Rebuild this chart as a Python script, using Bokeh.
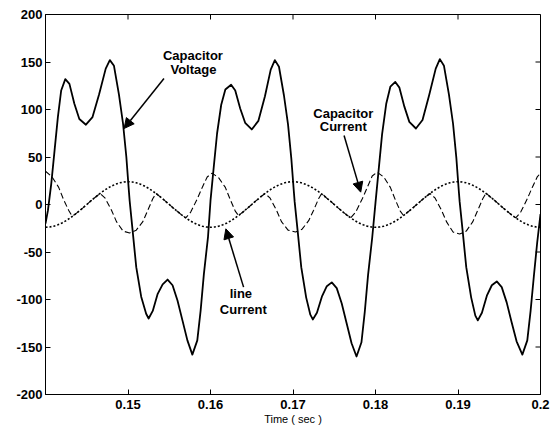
from bokeh.plotting import figure
from bokeh.models import Range1d, FixedTicker, Label, Arrow, NormalHead
from bokeh.embed import file_html
from bokeh.resources import INLINE

# ---------------- data ----------------
x_ticks = [0.15, 0.16, 0.17, 0.18, 0.19, 0.2]
x_tick_labels = ["0.15", "0.16", "0.17", "0.18", "0.19", "0.2"]
y_ticks = [-200, -150, -100, -50, 0, 50, 100, 150, 200]
y_tick_labels = ["-200", "-150", "-100", "-50", "0", "50", "100", "150", "200"]

# Capacitor voltage (solid)
volt_t = [0.1400, 0.1403, 0.1407, 0.1411, 0.1415, 0.1419, 0.1424, 0.1429, 0.1435, 0.1441,
          0.1449, 0.1457, 0.1465, 0.1473, 0.1478, 0.1483, 0.1489, 0.1494, 0.1498, 0.1501,
          0.1502, 0.1506, 0.1510, 0.1516, 0.1522, 0.1525, 0.1530, 0.1536, 0.1542, 0.1548,
          0.1554, 0.1560, 0.1566, 0.1572, 0.1578, 0.1584, 0.1588, 0.1592, 0.1597, 0.1600,
          0.1604, 0.1608, 0.1613, 0.1618, 0.1625, 0.1630, 0.1636, 0.1642, 0.1650, 0.1658,
          0.1666, 0.1673, 0.1678, 0.1683, 0.1689, 0.1694, 0.1698, 0.1701, 0.1702, 0.1706,
          0.1710, 0.1716, 0.1721, 0.1724, 0.1729, 0.1735, 0.1741, 0.1747, 0.1753, 0.1759,
          0.1765, 0.1771, 0.1777, 0.1783, 0.1787, 0.1791, 0.1796, 0.1800,
          0.1804, 0.1808, 0.1813, 0.1818, 0.1824, 0.1829, 0.1835, 0.1841, 0.1849, 0.1857,
          0.1865, 0.1873, 0.1878, 0.1883, 0.1889, 0.1894, 0.1898, 0.1901, 0.1902, 0.1906,
          0.1910, 0.1916, 0.1921, 0.1924, 0.1929, 0.1935, 0.1941, 0.1947, 0.1953, 0.1959,
          0.1965, 0.1971, 0.1978, 0.1984, 0.1988, 0.1992, 0.1996, 0.2000]
volt_v = [-20, -6, 22, 57, 92, 120, 132, 127, 106, 90,
          84, 92, 116, 143, 152, 146, 116, 85, 50, 15,
          4, -31, -66, -97, -115, -120, -112, -94, -84, -79,
          -85, -101, -122, -143, -158, -143, -112, -73, -34, 4,
          40, 75, 105, 121, 126, 120, 101, 86, 79, 88,
          114, 142, 152, 145, 115, 84, 48, 14, 3, -31,
          -66, -98, -116, -121, -114, -97, -86, -82, -88, -104,
          -125, -146, -160, -145, -113, -74, -35, 2,
          38, 74, 106, 124, 129, 123, 103, 87, 80, 89,
          115, 143, 153, 146, 116, 85, 49, 14, 3, -31,
          -66, -98, -117, -122, -114, -96, -85, -81, -87, -103,
          -124, -144, -158, -143, -112, -75, -40, -10]

# Capacitor current (dashed)
cap_t = [0.1400, 0.1408, 0.1416, 0.1422, 0.1428, 0.1432, 0.1435, 0.1440, 0.1445, 0.1450,
         0.1455, 0.1460, 0.1466, 0.1472, 0.1480, 0.1486, 0.1494, 0.1502, 0.1510, 0.1518,
         0.1524, 0.1530, 0.1534, 0.1540, 0.1545, 0.1550, 0.1555, 0.1560, 0.1565, 0.1570,
         0.1576, 0.1584, 0.1590, 0.1596, 0.1602, 0.1610, 0.1618, 0.1624, 0.1630, 0.1634,
         0.1640, 0.1645, 0.1650, 0.1655, 0.1660, 0.1666, 0.1672, 0.1680, 0.1686, 0.1694,
         0.1703, 0.1711, 0.1719, 0.1725, 0.1731, 0.1735, 0.1740, 0.1745, 0.1750, 0.1755,
         0.1760, 0.1765, 0.1770, 0.1776, 0.1784, 0.1790, 0.1796, 0.1802, 0.1810, 0.1818,
         0.1824, 0.1830, 0.1834, 0.1840, 0.1845, 0.1850, 0.1855, 0.1860, 0.1866, 0.1872,
         0.1880, 0.1886, 0.1894, 0.1902, 0.1910, 0.1918, 0.1924, 0.1930, 0.1934, 0.1940,
         0.1945, 0.1950, 0.1955, 0.1960, 0.1965, 0.1970, 0.1976, 0.1984, 0.1990, 0.1996,
         0.2000]
cap_v = [35, 29, 18, 5, -6, -12, -10.9, -7.4, -3.8, 0,
         3.8, 7.4, 11.6, 7, -6, -18, -28, -30, -27, -18,
         -6, 6, 11.6, 7.4, 3.8, 0, -3.8, -7.4, -10.9, -14.1,
         -8, 6, 18, 29, 33, 28, 18, 5, -7, -11.6,
         -7.4, -3.8, 0, 3.8, 7.4, 11.6, 7, -6, -18, -27,
         -29, -26, -17, -6, 6, 12, 7.4, 3.8, 0, -3.8,
         -7.4, -10.9, -14.1, -8, 6, 18, 30, 34, 29, 18,
         5, -7, -11.6, -7.4, -3.8, 0, 3.8, 7.4, 11.6, 7,
         -6, -18, -29, -31, -28, -18, -6, 6, 12, 7.4,
         3.8, 0, -3.8, -7.4, -10.9, -14.1, -8, 6, 18, 29,
         33]

# Line current (dotted), sampled every 0.5 ms from 0.14 s
line_t = [round(0.14 + 0.0005 * i, 4) for i in range(121)]
line_v = [-24, -23.7, -22.8, -21.4, -19.4, -17, -14.1, -10.9, -7.4, -3.8,
          0, 3.8, 7.4, 10.9, 14.1, 17, 19.4, 21.4, 22.8, 23.7,
          24, 23.7, 22.8, 21.4, 19.4, 17, 14.1, 10.9, 7.4, 3.8,
          0, -3.8, -7.4, -10.9, -14.1, -17, -19.4, -21.4, -22.8, -23.7,
          -24, -23.7, -22.8, -21.4, -19.4, -17, -14.1, -10.9, -7.4, -3.8,
          0, 3.8, 7.4, 10.9, 14.1, 17, 19.4, 21.4, 22.8, 23.7,
          24, 23.7, 22.8, 21.4, 19.4, 17, 14.1, 10.9, 7.4, 3.8,
          0, -3.8, -7.4, -10.9, -14.1, -17, -19.4, -21.4, -22.8, -23.7,
          -24, -23.7, -22.8, -21.4, -19.4, -17, -14.1, -10.9, -7.4, -3.8,
          0, 3.8, 7.4, 10.9, 14.1, 17, 19.4, 21.4, 22.8, 23.7,
          24, 23.7, 22.8, 21.4, 19.4, 17, 14.1, 10.9, 7.4, 3.8,
          0, -3.8, -7.4, -10.9, -14.1, -17, -19.4, -21.4, -22.8, -23.7,
          -24]

FONT = "Liberation Sans"
X0, X1, Y0, Y1 = 0.14, 0.2, -200, 200

# ---------------- figure ----------------
p = figure(width=550, height=427,
           x_range=Range1d(X0, X1), y_range=Range1d(Y0, Y1),
           output_backend="svg", toolbar_location=None,
           min_border_left=45, min_border_right=10,
           min_border_top=14, min_border_bottom=33)
p.xgrid.visible = False
p.ygrid.visible = False
p.outline_line_color = "black"
p.outline_line_width = 1
p.background_fill_color = "white"
p.border_fill_color = "white"

xa = p.xaxis[0]
ya = p.yaxis[0]
xa.ticker = FixedTicker(ticks=x_ticks)
ya.ticker = FixedTicker(ticks=y_ticks)
xa.major_label_overrides = {t: l for t, l in zip(x_ticks, x_tick_labels)}
ya.major_label_overrides = {t: l for t, l in zip(y_ticks, y_tick_labels)}
for ax in (xa, ya):
    ax.major_tick_in = 5
    ax.major_tick_out = 0
    ax.minor_tick_line_color = None
    ax.axis_line_color = "black"
    ax.major_tick_line_color = "black"
    ax.major_label_text_font = FONT
    ax.major_label_text_font_style = "bold"
    ax.major_label_text_font_size = "13px"
    ax.major_label_text_color = "black"
xa.major_label_standoff = 5
ya.major_label_standoff = 3
xa.axis_label = "Time ( sec )"
xa.axis_label_text_font = FONT
xa.axis_label_text_font_style = "normal"
xa.axis_label_text_font_size = "11px"
xa.axis_label_text_color = "black"
xa.axis_label_standoff = 1

# inward tick marks on the top and right edges of the box (5 px long)
tick_dy = 5 / (380 / (Y1 - Y0))
tick_dx = 5 / (495 / (X1 - X0))
p.segment(x0=x_ticks, y0=[Y1] * len(x_ticks), x1=x_ticks, y1=[Y1 - tick_dy] * len(x_ticks),
          line_color="black", line_width=1)
p.segment(x0=[X1] * len(y_ticks), y0=y_ticks, x1=[X1 - tick_dx] * len(y_ticks), y1=y_ticks,
          line_color="black", line_width=1)

# ---------------- curves ----------------
p.line(line_t, line_v, line_color="black", line_width=1.6, line_dash="2 2")
p.line(cap_t, cap_v, line_color="black", line_width=1.1, line_dash="6 3")
p.line(volt_t, volt_v, line_color="black", line_width=1.8, line_join="round")

# ---------------- annotations ----------------
def lab(x, y, txt):
    p.add_layout(Label(x=x, y=y, text=txt, text_align="center", text_baseline="middle",
                       text_font=FONT, text_font_style="bold", text_font_size="13px",
                       text_color="black"))

lab(0.15787, 156.8, "Capacitor")
lab(0.15793, 142.0, "Voltage")
lab(0.17609, 96.3, "Capacitor")
lab(0.17609, 82.0, "Current")
lab(0.16368, -93.7, "line")
lab(0.16398, -110.5, "Current")

def arr(x0, y0, x1, y1):
    p.add_layout(Arrow(end=NormalHead(size=10, fill_color="black", line_color="black"),
                       x_start=x0, y_start=y0, x_end=x1, y_end=y1,
                       line_color="black", line_width=1.5))

arr(0.15436, 132.6, 0.14952, 80.0)
arr(0.17619, 72.6, 0.17821, 13.0)
arr(0.16401, -87.0, 0.16186, -25.6)

open("out.html", "w").write(file_html(p, INLINE))
